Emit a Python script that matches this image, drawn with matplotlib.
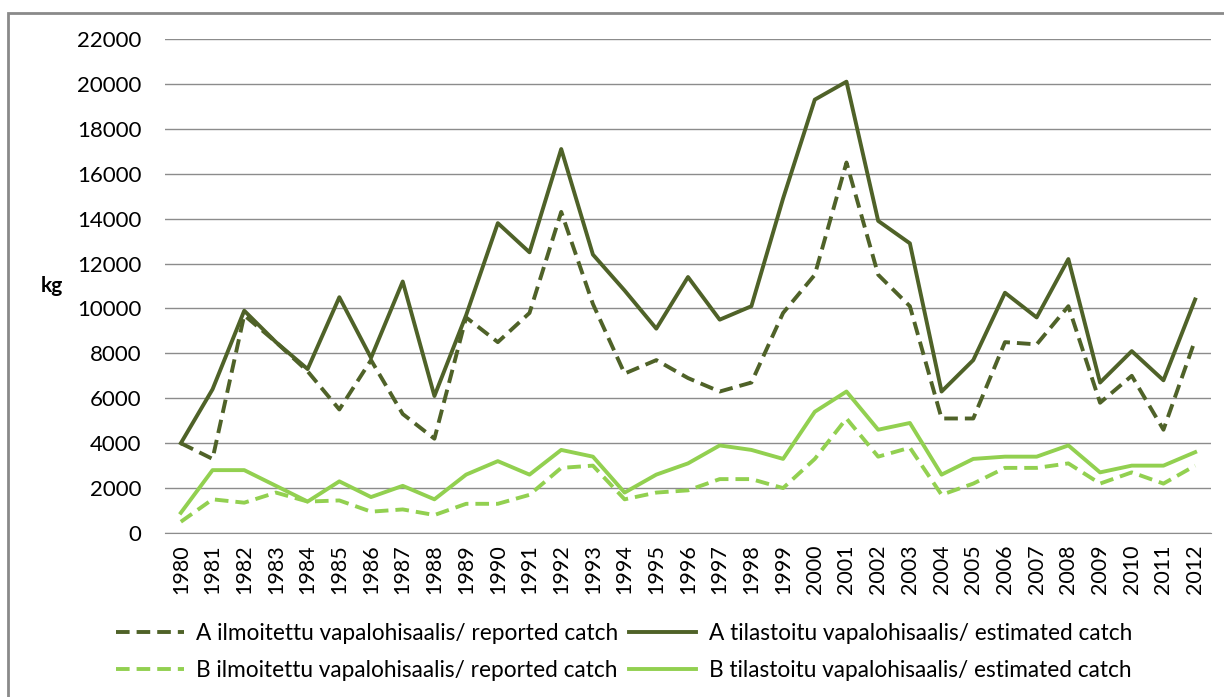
import matplotlib
matplotlib.use("Agg")
import matplotlib.pyplot as plt
from matplotlib.patches import Rectangle

years = list(range(1980, 2013))

a_reported = [4000, 3300, 9700, 8500, 7200, 5500, 7700, 5300, 4200, 9600,
              8500, 9800, 14300, 10200, 7100, 7700, 6900, 6300, 6700, 9800,
              11500, 16500, 11500, 10100, 5100, 5100, 8500, 8400, 10100, 5800,
              7000, 4600, 8600]
a_estimated = [4000, 6400, 9900, 8500, 7300, 10500, 7800, 11200, 6100, 9700,
               13800, 12500, 17100, 12400, 10800, 9100, 11400, 9500, 10100, 14900,
               19300, 20100, 13900, 12900, 6300, 7700, 10700, 9600, 12200, 6700,
               8100, 6800, 10400]
b_reported = [500, 1500, 1350, 1800, 1400, 1450, 950, 1050, 800, 1300,
              1300, 1700, 2900, 3000, 1500, 1800, 1900, 2400, 2400, 2000,
              3300, 5100, 3400, 3800, 1700, 2200, 2900, 2900, 3100, 2200,
              2700, 2200, 3000]
b_estimated = [900, 2800, 2800, 2100, 1400, 2300, 1600, 2100, 1500, 2600,
               3200, 2600, 3700, 3400, 1800, 2600, 3100, 3900, 3700, 3300,
               5400, 6300, 4600, 4900, 2600, 3300, 3400, 3400, 3900, 2700,
               3000, 3000, 3600]

labels = ["A ilmoitettu vapalohisaalis/ reported catch",
          "A tilastoitu vapalohisaalis/ estimated catch",
          "B ilmoitettu vapalohisaalis/ reported catch",
          "B tilastoitu vapalohisaalis/ estimated catch"]

dark = "#4f6228"
light = "#92d050"
grid_col = "#8c8c8c"

plt.rcParams["font.family"] = ["Lato", "DejaVu Sans"]

fig = plt.figure(figsize=(12.24, 6.97), dpi=100)
fig.patches.append(Rectangle((8 / 1224, -0.1), 1.2, 1 - 13 / 697 + 0.1,
                             transform=fig.transFigure, fill=False,
                             edgecolor="#8a8a8a", lw=2))
ax = fig.add_axes([165 / 1224, 1 - 533 / 697, (1211 - 165) / 1224, (533 - 39) / 697])

x = list(range(len(years)))
lw = 2.8
dash = (3.5, 1.8)
l1, = ax.plot(x, a_reported, color=dark, lw=lw, dashes=dash)
l2, = ax.plot(x, a_estimated, color=dark, lw=lw)
l3, = ax.plot(x, b_reported, color=light, lw=lw, dashes=dash)
l4, = ax.plot(x, b_estimated, color=light, lw=lw)

ax.set_xlim(-0.5, len(years) - 0.5)
ax.set_ylim(0, 22000)
ax.set_yticks(range(0, 22001, 2000))
ax.set_yticklabels([str(v) for v in range(0, 22001, 2000)], fontsize=16)
ax.set_xticks(x)
ax.set_xticklabels([str(y) for y in years], rotation=90, fontsize=15.5)
ax.tick_params(axis="x", length=0, pad=8)
ax.tick_params(axis="y", length=0, pad=17)
ax.grid(axis="y", color=grid_col, lw=1)
ax.set_axisbelow(True)
for s in ["top", "right", "left"]:
    ax.spines[s].set_visible(False)
ax.spines["bottom"].set_color(grid_col)

fig.text(52 / 1224, 1 - 286 / 697, "kg", fontsize=15, fontweight="bold",
         ha="center", va="center")

fig.legend([l1, l3, l2, l4], [labels[0], labels[2], labels[1], labels[3]],
           ncol=2, loc="center", bbox_to_anchor=(624 / 1224, 1 - 652 / 697),
           frameon=False, fontsize=16.3, handlelength=3.0, handletextpad=0.55,
           columnspacing=0.45, labelspacing=0.72)

fig.savefig("out.png", dpi=100)
